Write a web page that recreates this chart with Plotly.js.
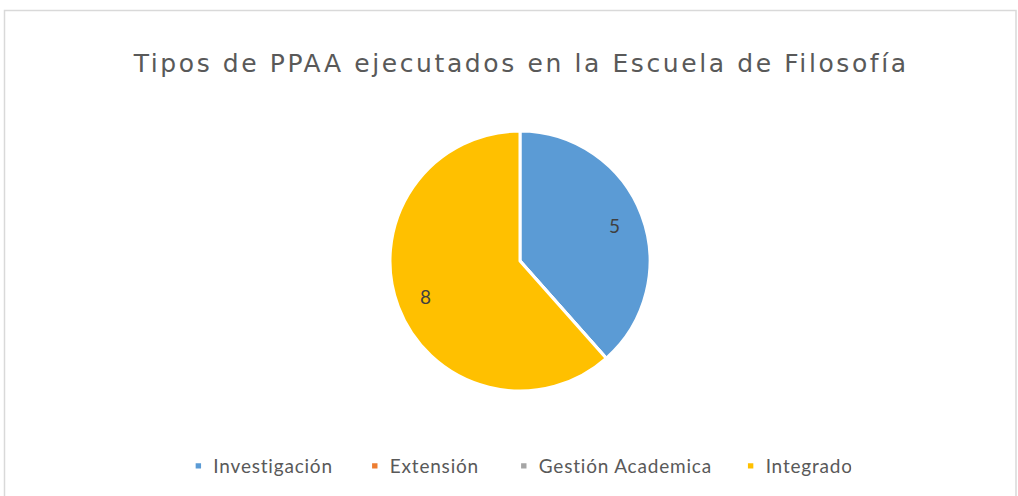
<!DOCTYPE html>
<html>
<head>
<meta charset="utf-8">
<script src="https://cdn.plot.ly/plotly-3.0.1.min.js"></script>
<style>
html,body{margin:0;padding:0;background:#fff;}
#chart{width:1018px;height:496px;}
#chart .gtitle{letter-spacing:2.6px;}
#chart .legendtext{letter-spacing:0.8px;}
</style>
</head>
<body>
<div id="chart"></div>
<script>
const categories = ["Investigación", "Extensión", "Gestión Academica", "Integrado"];
const values = [5, 0, 0, 8];
const colors = ["#5B9BD5", "#ED7D31", "#A5A5A5", "#FFC000"];

const W = 1018, H = 496;
const cx = 520, cy = 261, r = 130;
const labelRadius = 0.78;

const trace = {
  type: "pie",
  labels: categories,
  values: values,
  textinfo: "none",
  sort: false,
  direction: "clockwise",
  rotation: 0,
  marker: {colors: colors, line: {color: "#ffffff", width: 3}},
  domain: {x: [(cx - r) / W, (cx + r) / W], y: [(H - cy - r) / H, (H - cy + r) / H]},
  hoverinfo: "label+value"
};

// data labels at each slice's mid-angle, computed from the values
const total = values.reduce((a, b) => a + b, 0);
let cum = 0;
const annotations = [];
values.forEach((v, i) => {
  const mid = (cum + v / 2) / total * 2 * Math.PI;
  cum += v;
  if (v <= 0) return;
  const px = cx + labelRadius * r * Math.sin(mid);
  const py = cy - labelRadius * r * Math.cos(mid);
  annotations.push({
    xref: "paper", yref: "paper", x: px / W, y: 1 - py / H,
    xanchor: "center", yanchor: "middle", showarrow: false,
    text: String(v),
    font: {family: "Lato, 'Open Sans', sans-serif", size: 19, color: "#404040"}
  });
});

const layout = {
  width: W, height: H,
  margin: {l: 0, r: 0, t: 0, b: 0},
  paper_bgcolor: "#ffffff",
  title: {
    text: "Tipos de PPAA ejecutados en la Escuela de Filosofía",
    font: {family: "'DejaVu Sans', sans-serif", size: 25, color: "#595959"},
    x: 0.512, xanchor: "center", y: 1 - 63 / H, yanchor: "middle"
  },
  showlegend: true,
  legend: {
    orientation: "h", x: 0.4925, xanchor: "center", y: 1 - 466 / H, yanchor: "middle",
    font: {family: "Lato, 'Open Sans', sans-serif", size: 19, color: "#595959"},
    traceorder: "normal", itemwidth: 52
  },
  annotations: annotations,
  shapes: [{
    type: "rect", xref: "paper", yref: "paper",
    x0: 4.5 / W, x1: 1016 / W, y0: -0.01, y1: 1 - 10.5 / H,
    line: {color: "#D9D9D9", width: 1.5}, fillcolor: "rgba(0,0,0,0)", layer: "below"
  }]
};

function styleLegendMarkers() {
  document.querySelectorAll("#chart .legend .traces").forEach(function (g) {
    const text = g.querySelector(".legendtext");
    const pts = g.querySelector(".legendpoints");
    if (!text || !pts) return;
    const tx = parseFloat(text.getAttribute("x")) || 0;
    pts.setAttribute("transform", "");
    pts.querySelectorAll("path").forEach(function (p) {
      p.setAttribute("transform", "translate(" + (tx - 15) + ",0) scale(0.6)");
    });
  });
}

Plotly.newPlot("chart", [trace], layout, {displayModeBar: false, staticPlot: true}).then(styleLegendMarkers);
</script>
</body>
</html>
